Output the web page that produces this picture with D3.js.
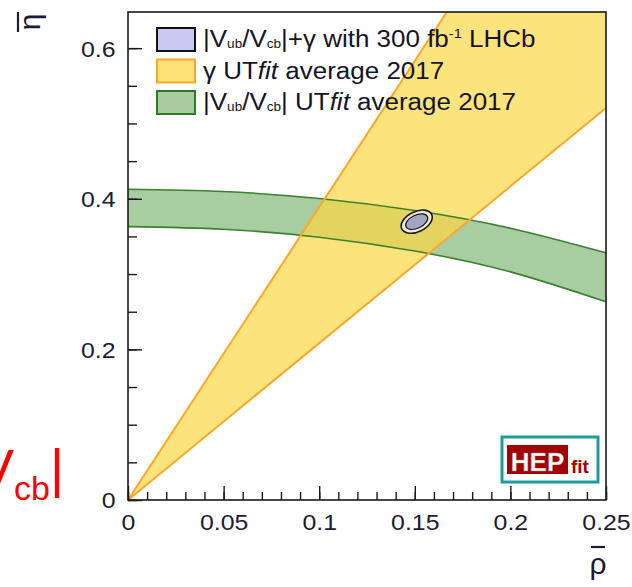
<!DOCTYPE html>
<html><head><meta charset="utf-8">
<script src="https://cdn.jsdelivr.net/npm/d3@7"></script>
<style>
body{margin:0;background:#fff}
svg{display:block}
text{font-family:"Liberation Sans",Arial,Helvetica,sans-serif}
</style>
</head><body>
<svg id="chart" width="632" height="587"></svg>
<script>
// ---- axis ticks ----
const rhoMajor = [0, 0.05, 0.1, 0.15, 0.2, 0.25];
const rhoLabels = ["0", "0.05", "0.1", "0.15", "0.2", "0.25"];
const etaMajor = [0, 0.2, 0.4, 0.6];
const etaLabels = ["0", "0.2", "0.4", "0.6"];

// ---- |Vub/Vcb| band: lower / upper edge of eta at each rho ----
const bandRho   = [0, 0.05, 0.1, 0.15, 0.2, 0.25];
const bandUpper = [0.4126, 0.4096, 0.4003, 0.3844, 0.3609, 0.3282];
const bandLower = [0.3630, 0.3595, 0.3490, 0.3306, 0.3029, 0.2632];

// ---- gamma wedge edges from the apex (rho, eta) ----
const gammaLowEdge  = [[0, 0], [0.25, 0.5206]];
const gammaHighEdge = [[0, 0], [0.1667, 0.648]];

// ---- LHCb 300 fb^-1 projection: centre and contour half-widths ----
const projCenter = [0.151, 0.3696];
const projHalfRho = [0.0087, 0.0062];   // along the long axis (rho units)
const projHalfEta = [0.0133, 0.0087];   // along the short axis (eta units)

const legendLabels = [
  [["|V"], ["ub", "sub"], ["/V"], ["cb", "sub"], ["|+γ with 300 fb"], ["-1", "sup"], [" LHCb"]],
  [["γ UT"], ["fit", "it"], [" average 2017"]],
  [["|V"], ["ub", "sub"], ["/V"], ["cb", "sub"], ["| UT"], ["fit", "it"], [" average 2017"]]
];

const W = 632, H = 587;
const m = {left: 128, right: 606, top: 12, bottom: 500};
const x = d3.scaleLinear().domain([0, 0.25]).range([m.left, m.right]);
const y = d3.scaleLinear().domain([0, 0.648]).range([m.bottom, m.top]);
const SX = 1.13; // horizontal stretch of the lettering

const svg = d3.select("#chart");
svg.append("defs").append("clipPath").attr("id", "frame")
  .append("rect").attr("x", m.left).attr("y", m.top)
  .attr("width", m.right - m.left).attr("height", m.bottom - m.top);

const plot = svg.append("g").attr("clip-path", "url(#frame)");

// |Vub/Vcb| band
const bandPts = bandRho.map((r, i) => ({r, lo: bandLower[i], hi: bandUpper[i]}));
plot.append("path").datum(bandPts)
  .attr("d", d3.area().x(d => x(d.r)).y0(d => y(d.lo)).y1(d => y(d.hi)).curve(d3.curveNatural))
  .attr("fill", "#a8cda0");

// gamma wedge
const wedge = [gammaLowEdge[0], gammaLowEdge[1], [0.25, 0.648], gammaHighEdge[1]];
plot.append("path").datum(wedge)
  .attr("d", d3.line().x(d => x(d[0])).y(d => y(d[1]))(wedge) + "Z")
  .attr("fill", "#fcd744").attr("fill-opacity", 0.7);

// band edges
const edgeLine = key => d3.line().x(d => x(d.r)).y(d => y(d[key])).curve(d3.curveNatural);
["lo", "hi"].forEach(k => plot.append("path").datum(bandPts)
  .attr("d", edgeLine(k)).attr("fill", "none")
  .attr("stroke", "#3c8032").attr("stroke-width", 1.6));

// gamma edges
[gammaLowEdge, gammaHighEdge].forEach(e => plot.append("line")
  .attr("x1", x(e[0][0])).attr("y1", y(e[0][1]))
  .attr("x2", x(e[1][0])).attr("y2", y(e[1][1]))
  .attr("stroke", "#ffa62b").attr("stroke-width", 2));

// projection contours
const pc = plot.append("g")
  .attr("transform", `translate(${x(projCenter[0])},${y(projCenter[1])}) rotate(-26)`);
const fills = ["#ecebd0", "#a4a4c4"];
projHalfRho.forEach((a, i) => pc.append("ellipse")
  .attr("rx", x(a) - x(0)).attr("ry", y(0) - y(projHalfEta[i]))
  .attr("fill", fills[i]).attr("stroke", "#1a1a1a").attr("stroke-width", i ? 1.2 : 1.6));

// axes: ticks point inward
const minorRho = d3.range(0, 0.2501, 0.01);
const minorEta = d3.range(0, 0.648, 0.05);
const gx = svg.append("g").attr("transform", `translate(0,${m.bottom})`);
gx.call(d3.axisBottom(x).tickValues(minorRho).tickSize(-8).tickFormat("").tickSizeOuter(0));
gx.call(g => g.select(".domain").remove());
const gx2 = svg.append("g").attr("transform", `translate(0,${m.bottom})`);
gx2.call(d3.axisBottom(x).tickValues(rhoMajor).tickSize(-14).tickSizeOuter(0)
  .tickPadding(14).tickFormat((d, i) => rhoLabels[i]));
gx2.select(".domain").remove();
gx2.selectAll("text").attr("font-size", 22).attr("fill", "#1b1b33")
  .attr("font-family", "Liberation Sans, Arial, sans-serif")
  .attr("transform", `scale(${SX},1)`);

const gy = svg.append("g").attr("transform", `translate(${m.left},0)`);
gy.call(d3.axisLeft(y).tickValues(minorEta).tickSize(-9).tickFormat("").tickSizeOuter(0));
gy.select(".domain").remove();
const gy2 = svg.append("g").attr("transform", `translate(${m.left},0)`);
gy2.call(d3.axisLeft(y).tickValues(etaMajor).tickSize(-14).tickSizeOuter(0)
  .tickPadding(11).tickFormat((d, i) => etaLabels[i]));
gy2.select(".domain").remove();
gy2.selectAll("text").attr("font-size", 22).attr("fill", "#1b1b33")
  .attr("font-family", "Liberation Sans, Arial, sans-serif")
  .attr("dy", "0.36em").attr("transform", `scale(${SX},1)`);
svg.selectAll(".tick line").attr("stroke", "#1a1a1a").attr("stroke-width", 1.4);

// frame
svg.append("rect").attr("x", m.left).attr("y", m.top)
  .attr("width", m.right - m.left).attr("height", m.bottom - m.top)
  .attr("fill", "none").attr("stroke", "#1a1a1a").attr("stroke-width", 1.6);

// axis titles (overlined rho / eta)
const rt = svg.append("g").attr("transform", "translate(598,574)");
rt.append("text").attr("text-anchor", "middle").attr("font-size", 30).attr("fill", "#1b1b33").text("ρ");
rt.append("line").attr("x1", -7).attr("x2", 7).attr("y1", -27).attr("y2", -27)
  .attr("stroke", "#1b1b33").attr("stroke-width", 2.2);
const et = svg.append("g").attr("transform", "translate(40,22) rotate(-90)");
et.append("text").attr("text-anchor", "middle").attr("font-size", 30).attr("fill", "#1b1b33").text("η");
et.append("line").attr("x1", -10).attr("x2", 10).attr("y1", -22).attr("y2", -22)
  .attr("stroke", "#1b1b33").attr("stroke-width", 2.2);

// legend
const legendStyle = [
  {fill: "#c8c8f0", stroke: "#111", sw: 2},
  {fill: "#ffe37a", stroke: "#ffa62b", sw: 2},
  {fill: "#a8cba0", stroke: "#2e7a2a", sw: 2}
];
const leg = svg.append("g");
legendLabels.forEach((parts, i) => {
  const yy = 39.5 + i * 31.5;
  leg.append("rect").attr("x", 157).attr("y", yy - 11.5).attr("width", 38).attr("height", 23)
    .attr("fill", legendStyle[i].fill).attr("stroke", legendStyle[i].stroke)
    .attr("stroke-width", legendStyle[i].sw);
  const t = leg.append("g").attr("transform", `translate(203,${yy + 7.5}) scale(${SX},1)`)
    .append("text").attr("font-size", 23).attr("fill", "#141428");
  let shift = 0;
  parts.forEach(([s, k]) => {
    const ts = t.append("tspan").text(s);
    let want = 0;
    if (k === "sub") { ts.attr("font-size", 12); want = 1; }
    else if (k === "sup") { ts.attr("font-size", 13); want = -9; }
    else if (k === "it") { ts.attr("font-style", "italic"); }
    ts.attr("dy", want - shift);
    shift = want;
  });
});

// HEPfit badge
const logo = svg.append("g");
logo.append("rect").attr("x", 502).attr("y", 437).attr("width", 96).attr("height", 45)
  .attr("fill", "#fff").attr("stroke", "#1f9c9a").attr("stroke-width", 3);
logo.append("rect").attr("x", 507).attr("y", 445).attr("width", 61).attr("height", 29).attr("fill", "#a40000");
logo.append("text").attr("x", 537.5).attr("y", 471).attr("text-anchor", "middle")
  .attr("font-size", 26).attr("font-weight", "bold").attr("fill", "#fff")
  .attr("stroke", "#888").attr("stroke-width", 0.4).text("HEP");
logo.append("text").attr("x", 571).attr("y", 473)
  .attr("font-size", 19).attr("font-weight", "bold").attr("fill", "#a40000").text("fit");

// red V_cb| lettering at the left edge
const red = svg.append("text").attr("x", 64).attr("y", 487).attr("text-anchor", "end")
  .attr("fill", "#ff0000").attr("font-size", 54);
red.append("tspan").text("V");
red.append("tspan").attr("font-size", 34).attr("dy", 13).text("cb");
red.append("tspan").attr("dy", -13).text("|");
</script>
</body></html>
